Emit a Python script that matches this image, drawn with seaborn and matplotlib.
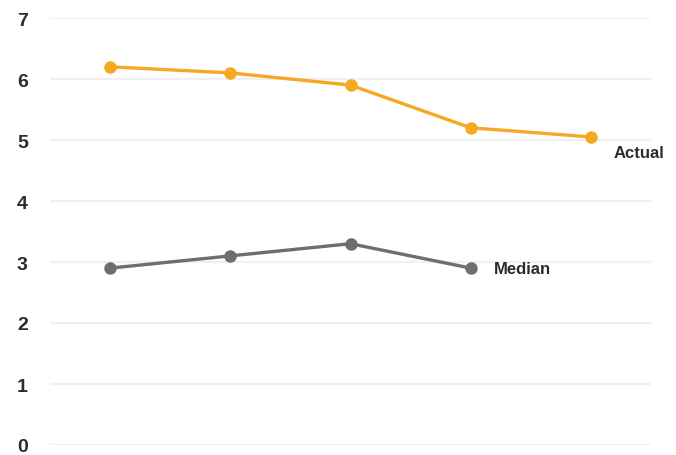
import matplotlib
matplotlib.use("Agg")
import matplotlib.pyplot as plt
import seaborn as sns
import pandas as pd

# Data
periods = [1, 2, 3, 4, 5]
actual = [6.2, 6.1, 5.9, 5.2, 5.05]
median_periods = [1, 2, 3, 4]
median = [2.9, 3.1, 3.3, 2.9]
y_ticks = [0, 1, 2, 3, 4, 5, 6, 7]

ORANGE = "#F7A823"
GRAY = "#6E6E6E"
TEXT = "#2b2b2b"

sns.set_theme(style="white")
plt.rcParams["font.family"] = ["Liberation Sans", "DejaVu Sans"]

df = pd.concat([
    pd.DataFrame({"period": periods, "value": actual, "series": "Actual"}),
    pd.DataFrame({"period": median_periods, "value": median, "series": "Median"}),
])

fig = plt.figure(figsize=(6.76, 4.56), dpi=100)
ax = fig.add_axes([50 / 676, 10 / 456, 601 / 676, 427 / 456])

sns.lineplot(data=df, x="period", y="value", hue="series",
             palette={"Actual": ORANGE, "Median": GRAY},
             marker="o", markersize=9, markeredgewidth=0,
             linewidth=2.4, legend=False, ax=ax)

ax.set_xlim(0.5, 5.5)
ax.set_ylim(0, 7)
ax.set_yticks(y_ticks)
ax.set_yticklabels([str(t) for t in y_ticks], fontsize=14, fontweight="bold", color=TEXT)
ax.tick_params(axis="y", length=0, pad=16)
ax.set_xticks([])
ax.set_xlabel("")
ax.set_ylabel("")
for s in ax.spines.values():
    s.set_visible(False)
ax.grid(axis="y", color="#f0f0f0", linewidth=1.6)
ax.set_axisbelow(True)

# Direct series labels next to the last point of each line
ax.annotate("Actual", xy=(periods[-1], actual[-1]), xytext=(16, -11),
            textcoords="offset points", fontsize=12, fontweight="bold",
            color=TEXT, va="center", ha="left")
ax.annotate("Median", xy=(median_periods[-1], median[-1]), xytext=(17, 0),
            textcoords="offset points", fontsize=12, fontweight="bold",
            color=TEXT, va="center", ha="left")

fig.savefig("out.png", dpi=100)
